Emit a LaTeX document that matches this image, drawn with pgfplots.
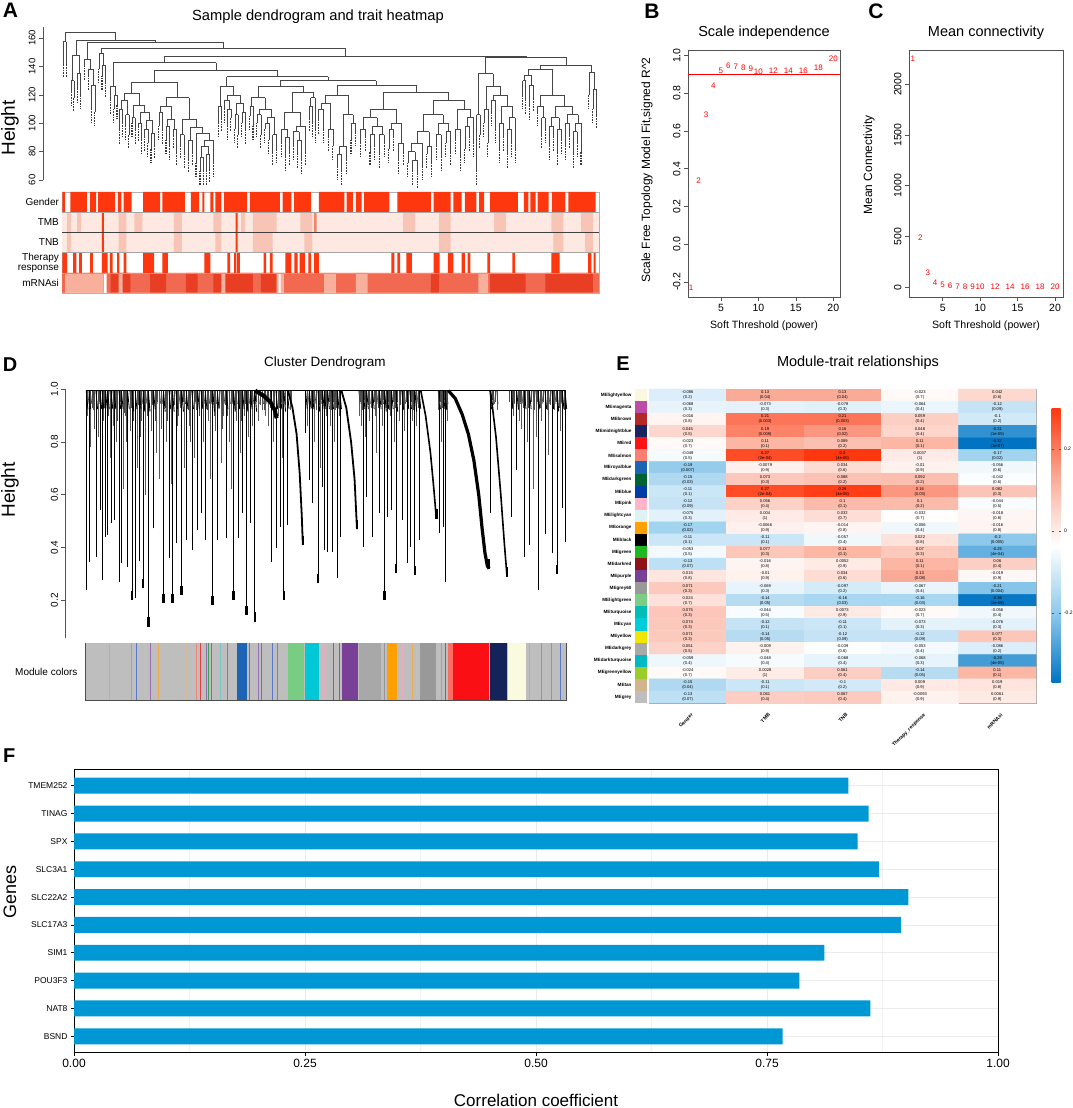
\documentclass[border=0pt]{standalone}
\usepackage{fontspec}
\setmainfont{Liberation Sans}
\usepackage{pgfplots}
\usepackage{pgfplotstable}
\pgfplotsset{compat=1.18}
\newcommand{\fs}[1]{\fontsize{#1}{#1}\selectfont}
\definecolor{hmred}{RGB}{255,55,15}
\definecolor{tmbbase}{RGB}{253,232,226}
\definecolor{tmbmid}{RGB}{248,196,182}
\definecolor{tmbdark}{RGB}{242,130,105}
\definecolor{mrbase}{RGB}{240,105,80}
\definecolor{mrlight}{RGB}{248,175,155}
\definecolor{mrdark}{RGB}{232,62,35}
\definecolor{barblue}{RGB}{0,152,212}
\definecolor{stripgrey}{RGB}{190,190,190}
\newcommand{\rect}[5]{\addplot[fill=#1,draw=none] coordinates {(#2,#4) (#3,#4) (#3,#5) (#2,#5)} -- cycle;}
\pgfplotsset{
 base/.style={scale only axis, anchor=south west, clip=false, enlargelimits=false,
   /pgf/number format/assume math mode=true, /pgf/number format/1000 sep={}, scaled ticks=false},
 rbox/.style={base, axis line style={gray!65!black, line width=0.6pt}, tick style={gray!65!black, line width=0.6pt},
   tick align=outside, major tick length=4pt, minor tick length=0pt, xtick pos=bottom, ytick pos=left,
   tick label style={font=\fs{10.5}}},
}
% ---------- data ----------
\pgfplotstableread{
xl xr H hl hr
160 168 157.5 142 142
180 187 130 122 118
196 204 135 124 120
183.5 200 148 130 135
232 240 127 110 108
223 236 138 133 127
214 229.5 145 140 138
258 266 141 133 128
250 262 149 138 141
288 296 120 110 113
280 292 126 116 120
302 310 110 95 100
318 326 106 98 92
306 322 116 110 106
334 342 104 100 95
350 358 100 97 88
366 374 96 90 86
382 390 93 82 85
370 386 102 96 93
354 378 108 100 102
338 366 113 104 108
314 352 121 116 113
402 410 108 98 95
420 428 98 88 84
438 446 96 92 80
424 442 103 98 96
406 433 112 108 103
456 466 92 85 78
476 486 88 75 80
506 514 76 66 66
522 530 78 66 68
510 526 84 76 78
518 540 88 84 72
496 529 93 72 88
481 512.5 97 88 93
461 496.75 103 92 97
419.5 478.875 118 112 103
333 449.19 129 121 118
552 560 112 100 104
576 584 110 98 104
568 580 116 110 110
594 602 106 96 92
612 620 108 100 95
598 616 114 106 108
574 607 120 116 114
556 590.5 126 112 120
632 640 112 105 98
650 660 106 100 92
670 680 100 96 88
690 700 92 80 82
675 695 104 100 92
655 685 110 106 104
636 670 118 112 110
722 732 90 76 80
712 727 96 86 90
752 762 88 78 74
742 757 94 84 88
749.5 772 98 94 80
719.5 760.75 108 96 98
782 790 112 104 100
786 798 118 112 96
740.125 792 122 108 118
653 766.06 126 118 122
806 818 110 102 96
830 842 96 90 84
812 836 114 110 96
854 864 78 70 66
859 876 84 78 74
888 900 100 88 94
867.5 894 106 84 100
824 880.75 120 114 106
912 924 96 86 90
936 948 92 80 84
960 972 92 78 86
942 966 98 92 92
918 954 104 96 98
984 996 96 82 90
1008 1020 86 74 80
990 1014 100 96 86
936 1002 110 104 100
1044 1056 74 66 64
1032 1050 80 72 74
1041 1068 86 80 70
1080 1092 84 78 72
1054.5 1086 94 86 84
1104 1116 92 84 76
1128 1140 94 86 80
1110 1134 100 92 94
1070.25 1122 106 94 100
1152 1164 96 88 76
1176 1188 98 82 90
1182 1198 104 98 86
1158 1190 110 96 104
1096.125 1174 116 106 110
969 1135.06 122 110 116
852.375 1052.03 127 120 122
709.53 952.2 130 126 127
573.25 830.87 132.8 126 130
391.1 702.06 137.5 129 132.8
286 546.58 142.6 126 137.5
1206 1214 106 66 92
1224 1234 110 100 86
1244 1254 116 108 96
1264 1274 100 82 90
1284 1294 96 78 86
1289 1304 104 96 82
1269 1296.5 112 100 104
1249 1282.75 120 116 112
1229 1265.875 126 110 120
1210 1247.44 135 106 126
1322 1330 130 120 116
1340 1350 127 112 118
1326 1345 134 130 127
1370 1380 104 92 96
1360 1375 112 108 104
1390 1400 98 84 90
1410 1420 96 80 88
1395 1415 104 98 96
1430 1440 100 84 92
1450 1460 94 78 86
1455 1470 100 94 80
1435 1462.5 106 100 100
1405 1448.75 112 104 106
1367.5 1426.875 120 112 112
1335.5 1397.19 138 134 120
1500 1508 124 110 106
1490 1504 136 120 124
1366.34 1497 141 138 136
1228.72 1431.67 146.4 135 141
416.29 1330.2 147.3 142.6 146.4
256 873.25 153 149 147.3
221.75 564.6 157 145 153
191.75 393.2 158.6 148 157
164 292.5 164 157.5 158.6
}\dendA
\pgfplotstableread{
x h
160 142
168 142
180 122
187 118
196 124
204 120
214 140
223 133
232 110
240 108
250 138
258 133
266 128
280 116
288 110
296 113
302 95
310 100
318 98
326 92
334 100
342 95
350 97
358 88
366 90
374 86
382 82
390 85
402 98
410 95
420 88
428 84
438 92
446 80
456 85
466 78
476 75
486 80
496 72
506 66
514 66
522 66
530 68
540 72
552 100
560 104
568 110
576 98
584 104
594 96
602 92
612 100
620 95
632 105
640 98
650 100
660 92
670 96
680 88
690 80
700 82
712 86
722 76
732 80
742 84
752 78
762 74
772 80
782 104
790 100
798 96
806 102
818 96
830 90
842 84
854 70
864 66
876 74
888 88
900 94
912 86
924 90
936 80
948 84
960 78
972 86
984 82
996 90
1008 74
1020 80
1032 72
1044 66
1056 64
1068 70
1080 78
1092 72
1104 84
1116 76
1128 86
1140 80
1152 88
1164 76
1176 82
1188 90
1198 86
1206 66
1214 92
1224 100
1234 86
1244 108
1254 96
1264 82
1274 90
1284 78
1294 86
1304 82
1322 120
1330 116
1340 112
1350 118
1360 108
1370 92
1380 96
1390 84
1400 90
1410 80
1420 88
1430 84
1440 92
1450 78
1460 86
1470 80
1490 120
1500 110
1508 106
}\leavesA
\pgfplotstableread{
x b
250 0.239
258 0.346
278 0.365
290 0.542
296 0.277
306 0.441
312 0.448
322 0.492
331 0.504
345 0.271
352 0.343
370 0.327
392 0.208
404 0.349
445 0.473
490 0.359
510 0.416
540 0.429
556 0.391
573 0.467
583 0.530
595 0.429
630 0.429
656 0.435
690 0.435
703 0.530
726 0.492
785 0.346
800 0.397
812 0.479
833 0.485
886 0.833
897 0.656
905 0.568
935 0.631
940 0.391
950 0.384
962 0.384
978 0.283
985 0.441
1053 0.403
1063 0.593
1080 0.441
1100 0.530
1122 0.517
1135 0.542
1165 0.504
1180 0.340
1188 0.403
1215 0.429
1272 0.454
1285 0.479
1290 0.271
1420 0.530
1482 0.517
1498 0.694
1520 0.365
1535 0.409
1560 0.239
1580 0.45
1600 0.38
1630 0.55
1638 0.42
}\thinD
\pgfplotstableread{
x b
383 0.201
415 0.245
430 0.100
474 0.189
500 0.189
527 0.220
617 0.182
677 0.201
714 0.144
739 0.119
823 0.201
922 0.264
1115 0.201
1148 0.302
1203 0.296
1615 0.300
}\thickD
\pgfplotstableread{
x b
878 0.41
1035 0.47
1265 0.51
1418 0.32
1470 0.29
}\blobD
\pgfplotstableread{
x b
254 0.90
262 0.78
270 0.92
284 0.82
300 0.88
318 0.74
327 0.86
338 0.80
358 0.62
364 0.90
376 0.84
398 0.70
410 0.88
422 0.60
438 0.84
452 0.76
462 0.66
468 0.92
482 0.80
495 0.64
518 0.90
534 0.70
548 0.86
562 0.74
568 0.92
590 0.80
604 0.88
610 0.66
624 0.84
640 0.72
648 0.90
664 0.80
670 0.62
684 0.88
696 0.76
708 0.90
720 0.82
732 0.86
748 0.88
760 0.92
770 0.90
778 0.86
792 0.80
806 0.90
818 0.74
840 0.92
892 0.86
912 0.80
928 0.70
945 0.90
956 0.86
968 0.80
972 0.92
1040 0.90
1048 0.86
1058 0.82
1070 0.88
1088 0.90
1092 0.76
1108 0.86
1128 0.92
1142 0.80
1158 0.88
1172 0.84
1195 0.88
1208 0.86
1270 0.92
1278 0.80
1295 0.88
1430 0.94
1440 0.92
1488 0.90
1505 0.88
1512 0.85
1528 0.80
1545 0.62
1553 0.82
1570 0.88
1590 0.75
1608 0.92
1625 0.84
}\shortD
\pgfplotstableread{
x b
252 0.96
266 0.93
274 0.85
288 0.95
302 0.93
315 0.90
334 0.93
341 0.88
348 0.95
361 0.91
367 0.80
380 0.93
387 0.88
400 0.94
407 0.82
418 0.93
426 0.90
441 0.94
449 0.88
457 0.95
466 0.85
479 0.93
486 0.88
504 0.94
514 0.86
522 0.93
531 0.95
545 0.92
552 0.80
566 0.95
578 0.90
586 0.94
600 0.92
613 0.95
621 0.90
636 0.93
645 0.85
652 0.94
660 0.90
673 0.95
681 0.92
694 0.93
700 0.88
711 0.95
718 0.92
729 0.94
736 0.90
744 0.95
755 0.94
765 0.92
775 0.95
782 0.93
796 0.94
809 0.93
816 0.95
828 0.94
843 0.95
884 0.95
890 0.92
901 0.93
909 0.95
918 0.92
926 0.94
931 0.96
944 0.94
953 0.95
959 0.92
966 0.95
976 0.93
982 0.90
1045 0.95
1051 0.92
1056 0.96
1067 0.94
1075 0.93
1085 0.95
1095 0.93
1104 0.94
1111 0.96
1119 0.93
1126 0.95
1132 0.90
1139 0.95
1145 0.93
1152 0.95
1161 0.94
1168 0.92
1177 0.95
1184 0.93
1192 0.95
1199 0.92
1206 0.95
1212 0.93
1275 0.95
1282 0.93
1288 0.96
1293 0.92
1297 0.94
1427 0.96
1435 0.95
1476 0.95
1485 0.93
1492 0.95
1501 0.92
1509 0.95
1516 0.93
1524 0.95
1532 0.93
1540 0.95
1549 0.92
1557 0.95
1565 0.93
1575 0.95
1585 0.92
1595 0.94
1605 0.93
1612 0.95
1620 0.93
1628 0.95
1635 0.92
}\tinyD
\pgfplotstableread{
x y c p
0 26 -0.086 (0.2)
1 26 0.13 (0.04)
2 26 0.13 (0.04)
3 26 -0.023 (0.7)
4 26 0.042 (0.6)
0 25 -0.068 (0.3)
1 25 -0.073 (0.3)
2 25 -0.078 (0.3)
3 25 -0.064 (0.4)
4 25 -0.12 (0.09)
0 24 -0.016 (0.8)
1 24 0.21 (0.003)
2 24 0.21 (0.003)
3 24 0.059 (0.4)
4 24 -0.1 (0.2)
0 23 0.045 (0.5)
1 23 0.19 (0.009)
2 23 0.16 (0.02)
3 23 0.048 (0.4)
4 23 -0.31 (1e-05)
0 22 -0.023 (0.7)
1 22 0.11 (0.1)
2 22 0.089 (0.2)
3 22 0.11 (0.1)
4 22 -0.37 (1e-07)
0 21 -0.049 (0.5)
1 21 0.27 (2e-04)
2 21 0.3 (4e-05)
3 21 0.0037 (1)
4 21 -0.17 (0.02)
0 20 -0.19 (0.007)
1 20 -0.0079 (0.9)
2 20 0.034 (0.6)
3 20 -0.01 (0.9)
4 20 -0.056 (0.6)
0 19 -0.15 (0.03)
1 19 0.073 (0.3)
2 19 0.088 (0.2)
3 19 0.092 (0.2)
4 19 -0.042 (0.6)
0 18 -0.11 (0.1)
1 18 0.27 (2e-04)
2 18 0.29 (4e-05)
3 18 0.16 (0.03)
4 18 0.082 (0.3)
0 17 -0.12 (0.09)
1 17 0.056 (0.4)
2 17 0.1 (0.1)
3 17 0.1 (0.2)
4 17 -0.044 (0.5)
0 16 -0.075 (0.3)
1 16 0.004 (1)
2 16 0.032 (0.7)
3 16 -0.032 (0.7)
4 16 -0.018 (0.8)
0 15 -0.17 (0.02)
1 15 -0.0066 (0.9)
2 15 -0.014 (0.8)
3 15 -0.056 (0.4)
4 15 -0.016 (0.8)
0 14 -0.11 (0.1)
1 14 -0.11 (0.1)
2 14 -0.057 (0.4)
3 14 0.022 (0.8)
4 14 -0.2 (0.005)
0 13 -0.053 (0.5)
1 13 0.077 (0.3)
2 13 0.11 (0.1)
3 13 0.07 (0.3)
4 13 -0.25 (4e-04)
0 12 -0.13 (0.07)
1 12 -0.016 (0.8)
2 12 0.0052 (0.9)
3 12 0.11 (0.1)
4 12 0.06 (0.4)
0 11 0.015 (0.8)
1 11 -0.01 (0.9)
2 11 0.034 (0.6)
3 11 0.13 (0.08)
4 11 -0.019 (0.9)
0 10 0.071 (0.3)
1 10 -0.069 (0.3)
2 10 -0.097 (0.2)
3 10 -0.067 (0.4)
4 10 -0.21 (0.004)
0 9 0.024 (0.7)
1 9 -0.14 (0.05)
2 9 -0.16 (0.03)
3 9 -0.16 (0.03)
4 9 -0.36 (2e-08)
0 8 0.075 (0.3)
1 8 -0.044 (0.5)
2 8 0.0073 (0.9)
3 8 -0.023 (0.7)
4 8 -0.056 (0.4)
0 7 0.074 (0.3)
1 7 -0.12 (0.1)
2 7 -0.11 (0.1)
3 7 -0.073 (0.3)
4 7 -0.076 (0.3)
0 6 0.071 (0.3)
1 6 -0.14 (0.05)
2 6 -0.12 (0.09)
3 6 -0.12 (0.09)
4 6 0.077 (0.3)
0 5 0.051 (0.5)
1 5 -0.009 (0.9)
2 5 -0.039 (0.6)
3 5 -0.053 (0.4)
4 5 -0.086 (0.2)
0 4 -0.059 (0.4)
1 4 -0.048 (0.4)
2 4 -0.068 (0.4)
3 4 -0.068 (0.3)
4 4 -0.29 (4e-05)
0 3 -0.024 (0.7)
1 3 0.0028 (1)
2 3 0.061 (0.4)
3 3 -0.14 (0.05)
4 3 0.11 (0.1)
0 2 -0.15 (0.04)
1 2 -0.11 (0.1)
2 2 -0.1 (0.2)
3 2 0.009 (0.9)
4 2 0.019 (0.8)
0 1 -0.13 (0.07)
1 1 0.061 (0.4)
2 1 0.067 (0.4)
3 1 -0.0093 (0.9)
4 1 0.0061 (0.9)
}\Edata
\begin{document}
\begin{tikzpicture}
\useasboundingbox (0,0) rectangle (1072pt,1108pt);
% ================= A : dendrogram =================
\begin{axis}[base, at={(43pt,928pt)}, width=557pt, height=153.3pt,
  xmin=108.8, xmax=1518, ymin=60, ymax=168,
  axis x line=none, axis y line*=left,
  axis line style={gray!65!black, line width=0.6pt}, tick style={gray!65!black, line width=0.6pt},
  tick align=outside, major tick length=4pt,
  ytick={60,80,100,120,140,160},
  yticklabel style={rotate=90, anchor=south, font=\fs{9.5}}]
\addplot[gray!55!black, line width=0.5pt, quiver={u=\thisrow{xr}-\thisrow{xl}, v=0}] table[x=xl, y=H] {\dendA};
\addplot[gray!55!black, line width=0.5pt, quiver={u=0, v=\thisrow{H}-\thisrow{hl}}] table[x=xl, y=hl] {\dendA};
\addplot[gray!55!black, line width=0.5pt, quiver={u=0, v=\thisrow{H}-\thisrow{hr}}] table[x=xr, y=hr] {\dendA};
\addplot[gray!45!black, line width=1.1pt, dash pattern=on 1pt off 0.6pt, quiver={u=0, v=-10}] table[x=x, y=h] {\leavesA};
\end{axis}
% ================= A : trait heatmap =================
\begin{axis}[base, at={(62.45pt,815pt)}, width=536.4pt, height=101pt,
  xmin=158, xmax=1515, ymin=0, ymax=5,
  axis line style={gray!60, line width=0.6pt},
  xtick=\empty, ytick={0.5,1.5,2.5,3.5,4.5},
  yticklabels={mRNAsi,{Therapy\\response},TNB,TMB,Gender},
  yticklabel style={align=right, font=\fs{10}}, major tick length=0pt]
% Gender
\addplot[const plot, fill=hmred, draw=none] coordinates {(158,4)(158,5)(165,4)(178,5)(220,4)(228,5)(243,4)(248,5)(291,4)(298,5)(307,4)(313,5)(333,4)(362,5)(405,4)(411,5)(468,4)(483,5)(504,4)(512,5)(517,4)(532,5)(540,4)(545,5)(560,4)(567,5)(625,4)(632,5)(708,4)(715,5)(737,4)(744,5)(787,4)(807,5)(871,4)(877,5)(893,4)(900,5)(915,4)(921,5)(985,4)(1005,5)(1090,4)(1097,5)(1140,4)(1147,5)(1168,4)(1176,5)(1205,4)(1212,5)(1225,4)(1240,5)(1310,4)(1325,5)(1337,4)(1342,5)(1355,4)(1360,5)(1388,4)(1396,5)(1430,4)(1438,5)(1507,4)(1515,4)} -- cycle;
% TMB
\rect{tmbbase}{158}{1515}{3}{4}
\addplot[const plot, fill=tmbmid, draw=none] coordinates {(158,3)(170,4)(180,3)(195,4)(205,3)(300,4)(320,3)(340,4)(360,3)(440,4)(460,3)(540,4)(560,3)(610,4)(620,3)(640,4)(700,3)(760,4)(790,3)(1020,4)(1050,3)(1110,4)(1140,3)(1250,4)(1280,3)(1395,4)(1425,3)(1470,4)(1500,3)(1515,3)} -- cycle;
\addplot[const plot, fill=tmbdark, draw=none] coordinates {(158,3)(795,4)(801,3)(1515,3)} -- cycle;
\addplot[const plot, fill=hmred, draw=none] coordinates {(158,3)(258,4)(263,3)(596,4)(601,3)(1515,3)} -- cycle;
% TNB
\rect{tmbbase}{158}{1515}{2}{3}
\addplot[const plot, fill=tmbmid, draw=none] coordinates {(158,2)(170,3)(180,2)(300,3)(320,2)(440,3)(460,2)(545,3)(560,2)(640,3)(690,2)(770,3)(790,2)(1110,3)(1140,2)(1400,3)(1425,2)(1480,3)(1500,2)(1515,2)} -- cycle;
\addplot[const plot, fill=hmred, draw=none] coordinates {(158,2)(258,3)(263,2)(596,3)(601,2)(1515,2)} -- cycle;
% Therapy response
\addplot[const plot, fill=hmred, draw=none] coordinates {(158,1)(158,2)(170,1)(185,2)(193,1)(200,2)(207,1)(228,2)(235,1)(258,2)(272,1)(278,2)(285,1)(296,2)(302,1)(313,2)(320,1)(362,2)(390,1)(411,2)(425,1)(517,2)(532,1)(575,2)(582,1)(592,2)(598,1)(600,2)(607,1)(667,2)(673,1)(683,2)(690,1)(722,2)(737,1)(745,2)(753,1)(758,2)(772,1)(780,2)(787,1)(795,2)(807,1)(990,2)(998,1)(1005,2)(1012,1)(1028,2)(1042,1)(1097,2)(1112,1)(1133,2)(1147,1)(1168,2)(1176,1)(1183,2)(1190,1)(1233,2)(1240,1)(1296,2)(1303,1)(1395,2)(1416,1)(1488,2)(1496,1)(1502,2)(1507,1)(1515,1)} -- cycle;
% mRNAsi
\rect{mrbase}{158}{1515}{0}{1}
\addplot[const plot, fill=mrdark, draw=none] coordinates {(158,0)(280,1)(330,0)(380,1)(420,0)(470,1)(500,0)(540,1)(640,0)(660,1)(700,0)(1090,1)(1110,0)(1240,1)(1330,0)(1380,1)(1500,0)(1515,0)} -- cycle;
\addplot[const plot, fill=mrlight, draw=none] coordinates {(158,0)(165,1)(260,0)(300,1)(310,0)(560,1)(570,0)(700,1)(718,0)(820,1)(850,0)(900,1)(930,0)(1210,1)(1235,0)(1515,0)} -- cycle;
\addplot[const plot, fill=white, draw=none] coordinates {(158,0)(262,1)(270,0)(705,1)(710,0)(1515,0)} -- cycle;
\addplot[gray!70, line width=0.5pt] coordinates {(158,1)(1515,1)};
\addplot[gray!70, line width=0.5pt] coordinates {(158,2)(1515,2)};
\addplot[gray!50!black, line width=0.5pt] coordinates {(158,3)(1515,3)};
\addplot[gray!70, line width=0.5pt] coordinates {(158,4)(1515,4)};
\end{axis}
% ================= B =================
\begin{axis}[rbox, at={(688pt,811pt)}, width=152pt, height=247pt,
  xmin=0.6, xmax=20.9, ymin=-0.28, ymax=1.03,
  xtick={5,10,15,20}, ytick={-0.2,0,0.2,0.4,0.6,0.8,1.0},
  yticklabel style={rotate=90, anchor=south, /pgf/number format/fixed, /pgf/number format/fixed zerofill, /pgf/number format/precision=1}]
\addplot[red, line width=0.6pt] coordinates {(0.6,0.9) (20.9,0.9)};
\addplot[draw=none, mark=none, point meta=x,
  nodes near coords={\pgfmathprintnumber[fixed,precision=0]{\pgfplotspointmeta}},
  every node near coord/.append style={anchor=center, text=red, font=\fs{8}, inner sep=0pt}]
  coordinates {(1,-0.232)(2,0.339)(3,0.689)(4,0.839)(5,0.922)(6,0.947)(7,0.940)(8,0.935)(9,0.928)(10,0.915)(12,0.919)(14,0.922)(16,0.919)(18,0.938)(20,0.984)};
\end{axis}
% ================= C =================
\begin{axis}[rbox, at={(909pt,811pt)}, width=154pt, height=247pt,
  xmin=0.5, xmax=21.07, ymin=-96, ymax=2338,
  xtick={5,10,15,20}, ytick={0,500,1000,1500,2000},
  yticklabel style={rotate=90, anchor=south}]
\addplot[draw=none, mark=none, point meta=x,
  nodes near coords={\pgfmathprintnumber[fixed,precision=0]{\pgfplotspointmeta}},
  every node near coord/.append style={anchor=center, text=red, font=\fs{8}, inner sep=0pt}]
  coordinates {(1,2249)(2,489)(3,144)(4,49)(5,20)(6,12)(7,8)(8,6)(9,5)(10,4)(12,3)(14,2)(16,1.5)(18,1)(20,1)};
\end{axis}
% ================= D : dendrogram =================
\begin{axis}[base, at={(65.5pt,469.5pt)}, width=500.5pt, height=249.2pt,
  xmin=190, xmax=1641, ymin=0.055, ymax=1.0,
  axis x line=none, axis y line*=left,
  axis line style={gray!65!black, line width=0.6pt}, tick style={gray!65!black, line width=0.6pt},
  tick align=outside, major tick length=4pt,
  ytick={0.2,0.4,0.6,0.8,1.0},
  yticklabel style={rotate=90, anchor=south, font=\fs{10}, /pgf/number format/fixed, /pgf/number format/fixed zerofill, /pgf/number format/precision=1}]
\addplot[gray!60!black, line width=0.3pt, quiver={u=0, v=0.995-\thisrow{b}}] table[x=x, y=b] {\tinyD};
\addplot[gray!70!black, line width=0.3pt, quiver={u=0, v=0.995-\thisrow{b}}] table[x=x, y=b] {\shortD};
\addplot[black, line width=0.4pt, quiver={u=0, v=0.995-\thisrow{b}}] table[x=x, y=b] {\thinD};
\addplot[black, line width=0.9pt, quiver={u=0, v=0.995-\thisrow{b}}] table[x=x, y=b] {\thickD};
\addplot[black, line width=0.8pt, quiver={u=5, v=-0.07}] table[x=x, y expr=0.995] {\thinD};
\addplot[black, line width=0.9pt, quiver={u=5, v=-0.08}] table[x=x, y expr=0.995] {\thickD};
\addplot[gray!50!black, line width=0.6pt, quiver={u=4, v=-0.05}] table[x=x, y expr=0.995] {\shortD};
\addplot[black, line width=2.6pt, quiver={u=0, v=0.035}] table[x=x, y=b] {\thickD};
\addplot[black, line width=2.6pt, quiver={u=0, v=0.035}] table[x=x, y=b] {\blobD};
\addplot[black, line width=4pt] coordinates {(740,0.995)(765,0.975)(785,0.95)(797,0.92)(802,0.89)};
\addplot[black, line width=1.8pt] coordinates {(835,0.995)(848,0.93)(860,0.83)(869,0.68)(875,0.52)(878,0.41)};
\addplot[black, line width=1.8pt] coordinates {(990,0.995)(1004,0.93)(1018,0.80)(1028,0.66)(1035,0.47)};
\addplot[black, line width=1.6pt] coordinates {(1220,0.995)(1234,0.90)(1248,0.76)(1258,0.62)(1265,0.51)};
\addplot[black, line width=3.2pt] coordinates {(1300,0.995)(1320,0.965)(1340,0.905)(1358,0.83)(1374,0.73)(1388,0.60)(1398,0.47)(1406,0.38)(1413,0.33)(1418,0.32)};
\addplot[black, line width=1.6pt] coordinates {(1422,0.995)(1438,0.82)(1452,0.60)(1462,0.42)(1470,0.29)};
\addplot[black, line width=0.7pt] coordinates {(248,0.997)(1641,0.997)};
\end{axis}
% ================= D : module colours =================
\begin{axis}[base, at={(85.5pt,408pt)}, width=480.5pt, height=57pt,
  xmin=248, xmax=1641, ymin=0, ymax=1, xtick=\empty, ytick=\empty,
  axis line style={gray!60!black, line width=0.6pt}]
\rect{stripgrey}{248}{1641}{0}{1}
\addplot[ycomb, color={rgb,255:red,120;green,200;blue,200}, line width=0.6pt] coordinates {(318,1)(640,1)(1535,1)};
\addplot[ycomb, color={rgb,255:red,240;green,130;blue,120}, line width=0.6pt] coordinates {(380,1)(570,1)(1280,1)};
\addplot[ycomb, color={rgb,255:red,90;green,120;blue,200}, line width=0.6pt] coordinates {(395,1)(612,1)(722,1)(758,1)(790,1)(1085,1)(1625,1)};
\addplot[ycomb, color={rgb,255:red,240;green,170;blue,190}, line width=0.6pt] coordinates {(420,1)(940,1)(1165,1)};
\addplot[ycomb, color={rgb,255:red,150;green,110;blue,180}, line width=0.6pt] coordinates {(435,1)(598,1)(660,1)(750,1)(805,1)};
\addplot[ycomb, color={rgb,255:red,240;green,170;blue,80}, line width=0.6pt] coordinates {(458,1)(1195,1)};
\addplot[ycomb, color={rgb,255:red,215;green,185;blue,150}, line width=0.6pt] coordinates {(540,1)};
\addplot[ycomb, color={rgb,255:red,230;green,60;blue,60}, line width=0.6pt] coordinates {(580,1)(1290,1)};
\addplot[ycomb, color={rgb,255:red,60;green,160;blue,80}, line width=0.6pt] coordinates {(604,1)};
\addplot[ycomb, color={rgb,255:red,200;green,60;blue,170}, line width=0.6pt] coordinates {(965,1)(985,1)};
\addplot[ycomb, color={rgb,255:red,150;green,150;blue,150}, line width=0.8pt] coordinates {(1115,1)(1570,1)(1600,1)};
\rect{{rgb,255:red,30;green,100;blue,180}}{686}{717}{0}{1}
\rect{{rgb,255:red,120;green,205;blue,130}}{835}{880}{0}{1}
\rect{{rgb,255:red,0;green,200;blue,215}}{883}{925}{0}{1}
\rect{{rgb,255:red,122;green,64;blue,152}}{993}{1037}{0}{1}
\rect{{rgb,255:red,168;green,168;blue,168}}{1040}{1105}{0}{1}
\rect{{rgb,255:red,255;green,160;blue,0}}{1122}{1152}{0}{1}
\rect{{rgb,255:red,153;green,153;blue,153}}{1217}{1265}{0}{1}
\rect{{rgb,255:red,250;green,110;blue,100}}{1298}{1312}{0}{1}
\rect{{rgb,255:red,250;green,15;blue,20}}{1312}{1418}{0}{1}
\rect{{rgb,255:red,20;green,35;blue,90}}{1421}{1470}{0}{1}
\rect{{rgb,255:red,250;green,250;blue,222}}{1473}{1525}{0}{1}
\end{axis}
% ================= E : colour column =================
\begin{axis}[base, at={(635pt,405pt)}, width=12pt, height=314pt,
  xmin=0, xmax=1, ymin=0.5, ymax=26.5, hide axis]
\rect{{rgb,255:red,250;green,248;blue,222}}{0}{1}{25.5}{26.5}
\rect{{rgb,255:red,190;green,75;blue,170}}{0}{1}{24.5}{25.5}
\rect{{rgb,255:red,180;green,40;blue,40}}{0}{1}{23.5}{24.5}
\rect{{rgb,255:red,25;green,35;blue,95}}{0}{1}{22.5}{23.5}
\rect{{rgb,255:red,250;green,20;blue,20}}{0}{1}{21.5}{22.5}
\rect{{rgb,255:red,250;green,128;blue,114}}{0}{1}{20.5}{21.5}
\rect{{rgb,255:red,30;green,100;blue,180}}{0}{1}{19.5}{20.5}
\rect{{rgb,255:red,0;green,100;blue,50}}{0}{1}{18.5}{19.5}
\rect{{rgb,255:red,0;green,60;blue,165}}{0}{1}{17.5}{18.5}
\rect{{rgb,255:red,255;green,182;blue,200}}{0}{1}{16.5}{17.5}
\rect{{rgb,255:red,222;green,242;blue,242}}{0}{1}{15.5}{16.5}
\rect{{rgb,255:red,255;green,160;blue,0}}{0}{1}{14.5}{15.5}
\rect{{rgb,255:red,0;green,0;blue,0}}{0}{1}{13.5}{14.5}
\rect{{rgb,255:red,30;green,185;blue,30}}{0}{1}{12.5}{13.5}
\rect{{rgb,255:red,140;green,20;blue,25}}{0}{1}{11.5}{12.5}
\rect{{rgb,255:red,122;green,64;blue,152}}{0}{1}{10.5}{11.5}
\rect{{rgb,255:red,153;green,153;blue,153}}{0}{1}{9.5}{10.5}
\rect{{rgb,255:red,125;green,205;blue,130}}{0}{1}{8.5}{9.5}
\rect{{rgb,255:red,0;green,190;blue,180}}{0}{1}{7.5}{8.5}
\rect{{rgb,255:red,0;green,205;blue,220}}{0}{1}{6.5}{7.5}
\rect{{rgb,255:red,240;green,230;blue,0}}{0}{1}{5.5}{6.5}
\rect{{rgb,255:red,169;green,169;blue,169}}{0}{1}{4.5}{5.5}
\rect{{rgb,255:red,0;green,185;blue,195}}{0}{1}{3.5}{4.5}
\rect{{rgb,255:red,155;green,205;blue,40}}{0}{1}{2.5}{3.5}
\rect{{rgb,255:red,210;green,180;blue,140}}{0}{1}{1.5}{2.5}
\rect{{rgb,255:red,190;green,190;blue,190}}{0}{1}{0.5}{1.5}
\end{axis}
% ================= E : heatmap =================
\begin{axis}[base, at={(649pt,405pt)}, width=387pt, height=314pt,
  xmin=-0.5, xmax=4.5, ymin=0.5, ymax=26.5,
  axis line style={gray!70, line width=0.8pt},
  xtick={0,1,2,3,4}, xticklabels={Gender,TMB,TNB,Therapy\_response,mRNAsi},
  xticklabel style={font=\fs{5}\bfseries, xshift=3pt, yshift=-5pt, rotate=45, anchor=north east},
  ytick={1,...,26},
  yticklabels={MEgrey,MEtan,MEgreenyellow,MEdarkturquoise,MEdarkgrey,MEyellow,MEcyan,MEturquoise,MElightgreen,MEgrey60,MEpurple,MEdarkred,MEgreen,MEblack,MEorange,MElightcyan,MEpink,MEblue,MEdarkgreen,MEroyalblue,MEsalmon,MEred,MEmidnightblue,MEbrown,MEmagenta,MElightyellow},
  yticklabel style={font=\fs{4.6}\bfseries, xshift=-14pt},
  major tick length=0pt, xtick pos=bottom, ytick pos=left,
  colormap={bwr}{rgb255=(0,115,195) rgb255=(140,200,235) rgb255=(255,255,255) rgb255=(250,170,150) rgb255=(255,55,15)},
  point meta min=-0.37, point meta max=0.30,
  colorbar,
  colorbar style={at={(parent axis.north east)}, anchor=north west, xshift=7pt, yshift=-19pt,
    scale only axis, width=9pt, height=275pt, ytick={-0.2,0,0.2},
    yticklabel style={font=\fs{5}, /pgf/number format/assume math mode=true},
    major tick length=2pt, tick style={gray!70!black}, axis line style={draw=none}}]
\addplot[matrix plot*, mesh/cols=5, point meta=explicit] table[x=x, y=y, meta=c] {\Edata};
\addplot[draw=none, mark=none, nodes near coords, point meta=explicit symbolic,
  every node near coord/.append style={anchor=center, yshift=2.6pt, font=\fs{4.1}, inner sep=0pt}]
  table[x=x, y=y, meta=c] {\Edata};
\addplot[draw=none, mark=none, nodes near coords, point meta=explicit symbolic,
  every node near coord/.append style={anchor=center, yshift=-2.7pt, font=\fs{4.1}, inner sep=0pt}]
  table[x=x, y=y, meta=p] {\Edata};
\end{axis}
% ================= F =================
\begin{axis}[base, at={(74pt,55.3pt)}, width=924pt, height=283.4pt,
  xmin=0, xmax=1, ymin=0.41, ymax=10.59,
  xtick={0,0.25,0.5,0.75,1}, xticklabels={0.00,0.25,0.50,0.75,1.00},
  minor xtick={0.125,0.375,0.625,0.875},
  ytick={1,...,10}, yticklabels={BSND,NAT8,POU3F3,SIM1,SLC17A3,SLC22A2,SLC3A1,SPX,TINAG,TMEM252},
  xmajorgrids, xminorgrids, ymajorgrids,
  major grid style={gray!16, line width=0.8pt}, minor grid style={gray!12, line width=0.6pt},
  axis line style={black, line width=0.9pt}, tick style={black, line width=0.8pt},
  tick align=outside, major tick length=3pt, minor tick length=0pt,
  xtick pos=bottom, ytick pos=left,
  xticklabel style={font=\fs{12}}, yticklabel style={font=\fs{8.5}}]
\addplot[xbar, bar width=0.573, fill=barblue, draw=none] coordinates {(0.767,1) (0.862,2) (0.785,3) (0.812,4) (0.895,5) (0.903,6) (0.871,7) (0.848,8) (0.860,9) (0.838,10)};
\end{axis}
% ================= texts =================
\node[font=\fs{21}\bfseries] at (10.5pt,1097.5pt) {A};
\node[font=\fs{21}\bfseries] at (652pt,1097pt) {B};
\node[font=\fs{21}\bfseries] at (876pt,1097pt) {C};
\node[font=\fs{20}\bfseries] at (10pt,743pt) {D};
\node[font=\fs{20}\bfseries] at (623pt,744.7pt) {E};
\node[font=\fs{20}\bfseries] at (9.3pt,352pt) {F};
\node[font=\fs{14.7}] at (318pt,1091pt) {Sample dendrogram and trait heatmap};
\node[font=\fs{19}, rotate=90] at (10pt,980pt) {Height};
\node[font=\fs{14.5}] at (764pt,1075pt) {Scale independence};
\node[font=\fs{14.5}] at (986pt,1075pt) {Mean connectivity};
\node[font=\fs{12}, rotate=90] at (647pt,938pt) {Scale Free Topology Model Fit,signed R\textasciicircum 2};
\node[font=\fs{12}, rotate=90] at (869pt,943pt) {Mean Connectivity};
\node[font=\fs{10.6}] at (764pt,782pt) {Soft Threshold (power)};
\node[font=\fs{10.6}] at (986pt,782pt) {Soft Threshold (power)};
\node[font=\fs{13.5}] at (325pt,745pt) {Cluster Dendrogram};
\node[font=\fs{19}, rotate=90] at (10pt,618pt) {Height};
\node[font=\fs{10}, anchor=east] at (81pt,436pt) {Module colors};
\node[font=\fs{14.5}] at (858pt,745pt) {Module-trait relationships};
\node[font=\fs{18}, rotate=90] at (10pt,216pt) {Genes};
\node[font=\fs{17}] at (536pt,8pt) {Correlation coefficient};
\end{tikzpicture}
\end{document}
